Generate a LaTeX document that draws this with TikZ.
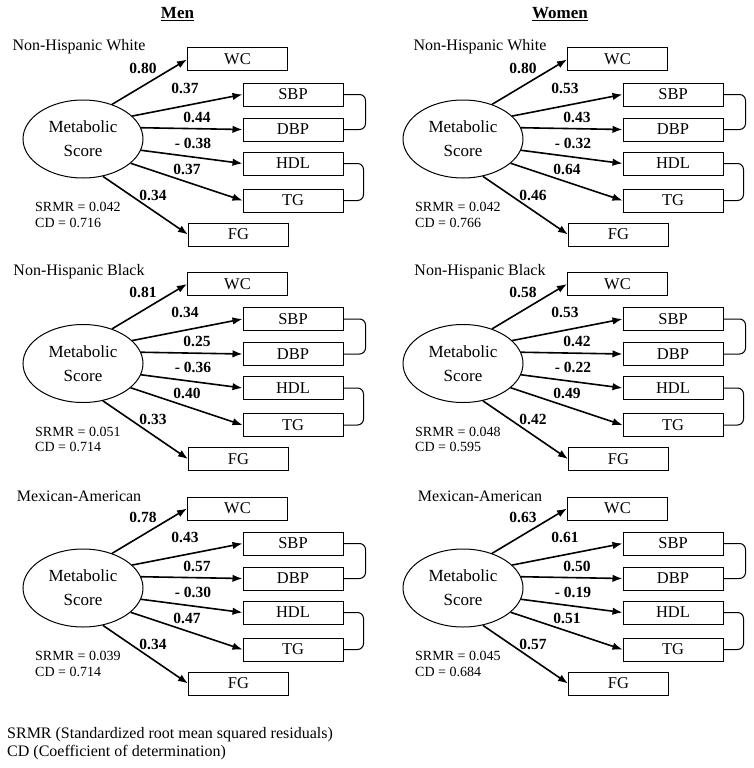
\documentclass[tikz,border=0pt]{standalone}
\usepackage{fontspec}
\setmainfont{Liberation Serif}
\usetikzlibrary{shapes.geometric,arrows.meta}
\begin{document}
\begin{tikzpicture}[x=1pt,y=-1pt,
  boxnode/.style={draw,line width=1pt,minimum width=100pt,minimum height=23pt,inner sep=0pt,font=\fontsize{16.5}{18}\selectfont},
  latent/.style={draw,ellipse,line width=1pt,minimum width=120pt,minimum height=78pt,inner sep=0pt,align=center,font=\fontsize{17}{24}\selectfont},
  loadarrow/.style={line width=1.6pt,-{Latex[length=10pt,width=7.5pt]}},
  coef/.style={font=\bfseries\fontsize{15.5}{17}\selectfont,inner sep=0pt},
  grplabel/.style={font=\fontsize{16}{18}\selectfont,inner sep=0pt},
  fitlabel/.style={font=\fontsize{14}{16}\selectfont,inner sep=0pt,anchor=west},
  corr/.style={line width=1pt,rounded corners=6pt},
  titlelabel/.style={font=\bfseries\fontsize{17}{19}\selectfont,inner sep=0pt},
  note/.style={font=\fontsize{16}{18}\selectfont,inner sep=0pt,anchor=west}]
\useasboundingbox (0,0) rectangle (754,768);
\node[titlelabel] (men) at (177.5,14) {\underline{Men}};
\node[titlelabel] (women) at (560,14) {\underline{Women}};
\foreach \pid/\px/\py/\grp/\gx/\va/\vb/\vc/\vd/\ve/\vf/\vsr/\vcd in {
  mw/0/0/Non-Hispanic White/79/0.80/0.37/0.44/- 0.38/0.37/0.34/0.042/0.716,
  mb/0/224.5/Non-Hispanic Black/79/0.81/0.34/0.25/- 0.36/0.40/0.33/0.051/0.714,
  mm/0/449/Mexican-American/79/0.78/0.43/0.57/- 0.30/0.47/0.34/0.039/0.714,
  ww/380/0/Non-Hispanic White/100/0.80/0.53/0.43/- 0.32/0.64/0.46/0.042/0.766,
  wb/380/224.5/Non-Hispanic Black/100/0.58/0.53/0.42/- 0.22/0.49/0.42/0.048/0.595,
  wm/380/449/Mexican-American/100/0.63/0.61/0.50/- 0.19/0.51/0.57/0.045/0.684}
{
\begin{scope}[shift={(\px,\py)}]
  \node[grplabel] (g\pid) at (\gx,47) {\grp};
  \node[latent] (e\pid) at (83,139) {Metabolic\\Score};
  \node[boxnode] (wc\pid) at (237.5,59.5) {WC};
  \node[boxnode] (sbp\pid) at (293,94.5) {SBP};
  \node[boxnode] (dbp\pid) at (293,129.5) {DBP};
  \node[boxnode] (hdl\pid) at (293,163.5) {HDL};
  \node[boxnode] (tg\pid) at (293,200.5) {TG};
  \node[boxnode] (fg\pid) at (238.5,234.5) {FG};
  \draw[loadarrow] (e\pid.50) -- (wc\pid.west);
  \draw[loadarrow] (e\pid.25) -- (sbp\pid.west);
  \draw[loadarrow] (e\pid.11) -- (dbp\pid.west);
  \draw[loadarrow] (e\pid.-11) -- (hdl\pid.west);
  \draw[loadarrow] (e\pid.-27) -- (tg\pid.west);
  \draw[loadarrow] (e\pid.-62) -- (fg\pid.west);
  \draw[corr] (sbp\pid.east) -- ++(22,0) |- (dbp\pid.east);
  \draw[corr] (hdl\pid.east) -- ++(20,0) |- (tg\pid.east);
  \node[coef] (ca\pid) at (143,68) {\va};
  \node[coef] (cb\pid) at (185,88) {\vb};
  \node[coef] (cc\pid) at (197,117) {\vc};
  \node[coef] (cd\pid) at (193,143) {\vd};
  \node[coef] (ce\pid) at (187,169) {\ve};
  \node[coef] (cf\pid) at (153,195) {\vf};
  \node[fitlabel] (sr\pid) at (35,207) {SRMR = \vsr};
  \node[fitlabel] (cdl\pid) at (35,222.5) {CD = \vcd};
\end{scope}
}
\node[note] (note1) at (7,735) {SRMR (Standardized root mean squared residuals)};
\node[note] (note2) at (7,753) {CD (Coefficient of determination)};
\end{tikzpicture}
\end{document}
